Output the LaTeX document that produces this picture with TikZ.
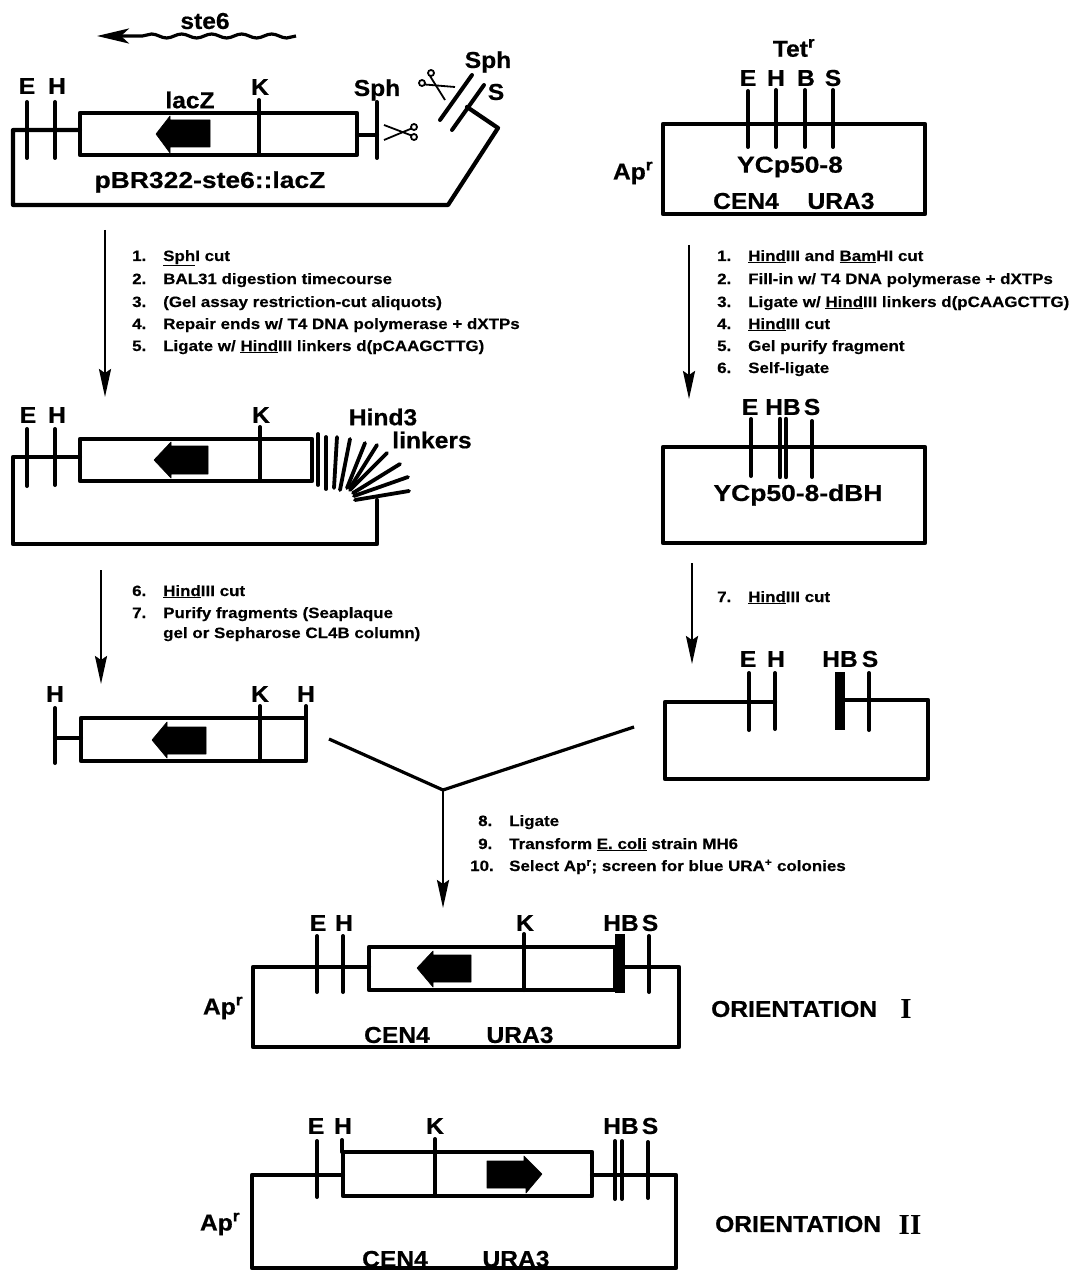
\documentclass[tikz,border=0pt]{standalone}
\usepackage{fontspec}
\setmainfont{Liberation Sans}
\newfontfamily\romfont{Liberation Serif}[UprightFont=* Bold]
\newfontfamily\labfont{Liberation Sans}[UprightFont=* Bold,FakeStretch=1.07,FakeBold=0.6]
\newfontfamily\namefont{Liberation Sans}[UprightFont=* Bold,FakeStretch=1.15,FakeBold=0.6]
\newfontfamily\stepfont{Liberation Sans}[UprightFont=* Bold,FakeStretch=1.13,FakeBold=0.4]
\usetikzlibrary{arrows.meta,decorations.pathmorphing}
\tikzset{
  dna/.style={line width=4.2pt,line cap=round,line join=round,black},
  site/.style={line width=4pt,line cap=round,black},
  link/.style={line width=3.8pt,line cap=round,black},
  band/.style={line width=#1,line cap=round,black},
  fatarrow/.style={fill=black,draw=black,line width=.6pt,line join=round},
  flow/.style={line width=2.4pt,black,-{Stealth[length=28pt,width=12pt,inset=4pt]}},
  yline/.style={line width=3.2pt,black},
  lab/.style={font=\labfont\fontsize{23}{25}\selectfont,inner sep=0pt,anchor=center},
  planame/.style={font=\namefont\fontsize{23}{25}\selectfont,inner sep=0pt,anchor=center},
  stepnum/.style={font=\stepfont\fontsize{15}{17}\selectfont,inner sep=0pt,anchor=base west},
  steptxt/.style={font=\stepfont\fontsize{15}{17}\selectfont,inner sep=0pt,anchor=base west},
  roman/.style={font=\romfont\fontsize{29}{30}\selectfont,inner sep=0pt,anchor=center},
  scis/.style={line width=1.8pt,black},
}
\begin{document}
\begin{tikzpicture}[x=1pt,y=-1pt]
\useasboundingbox (0,0) rectangle (1074,1273);
\fill[white] (0,0) rectangle (1074,1273);

% ---------- top-left plasmid
\coordinate (wavyR) at (296,36);
\coordinate (wavyL) at (97,36);
\draw[line width=3.2pt,-{Stealth[length=32pt,width=15pt,inset=8pt]},decorate,decoration={snake,segment length=30pt,amplitude=2pt,post length=36pt}] (wavyR) -- (wavyL);
\node[lab] (ste) at (205,21) {ste6};
\draw[dna] (80,130) -- (13,130) -- (13,205) -- (448,205) -- (498,128) -- (467,107);
\draw[dna] (80,113) rectangle (357,155);
\draw[dna] (357,135) -- (377,135);
\draw[site] (27,102) -- (27,158);
\draw[site] (55,102) -- (55,158);
\draw[site] (259,100) -- (259,155);
\draw[site] (377,102) -- (377,158);
\draw[site] (440,120) -- (472,75);
\draw[site] (452,130) -- (484,85);
\draw[fatarrow] (156,134) -- (170,116) -- (170,120) -- (210,120) -- (210,147) -- (170,147) -- (170,153) -- cycle;
\draw[scis] (414,127) circle (3pt); \draw[scis] (414,137) circle (3pt);
\draw[scis] (411.5,128.5) -- (384,140);
\draw[scis] (411.5,135.5) -- (384,125);
\draw[scis] (422,83) circle (3pt); \draw[scis] (431,73) circle (3pt);
\draw[scis] (425,84.5) -- (455,87);
\draw[scis] (430,76) -- (445,100);
\node[lab] (e1) at (27,86) {E};
\node[lab] (h1) at (57,86) {H};
\node[lab] (lac1) at (190,100) {lacZ};
\node[lab] (k1) at (260,87) {K};
\node[lab] (sph1) at (377,90) {Sph};
\node[lab] (sph2) at (488,62) {Sph};
\node[lab] (s1) at (496,92) {S};
\node[planame] (pbr) at (210,182) {pBR322-ste6::lacZ};

% ---------- arrow and steps
\coordinate (a1s) at (105,230);
\coordinate (a1e) at (105,397);
\draw[flow] (a1s) -- (a1e);
\node[stepnum] (n1a) at (132,261) {1.};
\node[steptxt] (t1a) at (163,261) {\underline{Sph}I cut};
\node[stepnum] (n1b) at (132,284) {2.};
\node[steptxt] (t1b) at (163,284) {BAL31 digestion timecourse};
\node[stepnum] (n1c) at (132,307) {3.};
\node[steptxt] (t1c) at (163,307) {(Gel assay restriction-cut aliquots)};
\node[stepnum] (n1d) at (132,329) {4.};
\node[steptxt] (t1d) at (163,329) {Repair ends w/ T4 DNA polymerase + dXTPs};
\node[stepnum] (n1e) at (132,351) {5.};
\node[steptxt] (t1e) at (163,351) {Ligate w/ \underline{Hind}III linkers d(pCAAGCTTG)};

% ---------- second plasmid
\draw[dna] (80,457) -- (13,457) -- (13,544) -- (377,544) -- (377,500);
\draw[dna] (80,439) rectangle (312,481);
\draw[site] (27,429) -- (27,486);
\draw[site] (55,429) -- (55,485);
\draw[site] (260,427) -- (260,480);
\draw[fatarrow] (154,460) -- (171,442) -- (171,446) -- (208,446) -- (208,474) -- (171,474) -- (171,478) -- cycle;
\draw[link] (318,434) -- (318,485);
\draw[link] (326,437) -- (326,489);
\draw[link] (337,437) -- (334,488);
\draw[link] (350,439) -- (340,490);
\draw[link] (365,443) -- (347,488);
\draw[link] (377,445) -- (350,488);
\draw[link] (387,453) -- (350,490);
\draw[link] (400,464) -- (353,493);
\draw[link] (408,477) -- (354,496);
\draw[link] (409,491) -- (355,500);
\node[lab] (e2) at (28,415) {E};
\node[lab] (h2) at (57,415) {H};
\node[lab] (k2) at (261,415) {K};
\node[lab] (hd) at (383,417) {Hind3};
\node[lab] (lk) at (432,440) {linkers};

\coordinate (a2s) at (101,570);
\coordinate (a2e) at (101,684);
\draw[flow] (a2s) -- (a2e);
\node[stepnum] (n2a) at (132,596) {6.};
\node[steptxt] (t2a) at (163,596) {\underline{Hind}III cut};
\node[stepnum] (n2b) at (132,618) {7.};
\node[steptxt] (t2b) at (163,618) {Purify fragments (Seaplaque};
\node[steptxt] (t2c) at (163,638) {gel or Sepharose CL4B column)};

% ---------- third fragment
\draw[dna] (81,718) rectangle (306,761);
\draw[dna] (55,738) -- (81,738);
\draw[site] (55,708) -- (55,763);
\draw[site] (260,706) -- (260,761);
\draw[site] (306,706) -- (306,718);
\draw[fatarrow] (152,740) -- (167,722) -- (167,727) -- (206,727) -- (206,754) -- (167,754) -- (167,758) -- cycle;
\node[lab] (h3) at (55,694) {H};
\node[lab] (k3) at (260,694) {K};
\node[lab] (h4) at (306,694) {H};

% ---------- Y join
\coordinate (yl) at (329,739);
\coordinate (yc) at (443,790);
\coordinate (yr) at (634,727);
\coordinate (ye) at (443,908);
\draw[yline] (yl) -- (yc) -- (yr);
\draw[flow] (yc) -- (ye);
\node[stepnum] (n3a) at (478,826) {8.};
\node[steptxt] (t3a) at (509,826) {Ligate};
\node[stepnum] (n3b) at (478,849) {9.};
\node[steptxt] (t3b) at (509,849) {Transform \underline{E. coli} strain MH6};
\node[stepnum] (n3c) at (470,871) {10.};
\node[steptxt] (t3c) at (509,871) {Select Ap\textsuperscript{r}; screen for blue URA\textsuperscript{+} colonies};

% ---------- right: YCp50-8
\draw[dna] (663,124) rectangle (925,214);
\draw[site] (748,91) -- (748,147);
\draw[site] (776,90) -- (776,147);
\draw[site] (805,90) -- (805,147);
\draw[site] (833,90) -- (833,147);
\node[lab] (tet) at (794,48) {Tet\textsuperscript{r}};
\node[lab] (er) at (748,78) {E};
\node[lab] (hr) at (776,78) {H};
\node[lab] (br) at (806,78) {B};
\node[lab] (sr) at (833,78) {S};
\node[lab] (apr) at (633,173) {Ap\textsuperscript{r}};
\node[planame] (ycp) at (790,167) {YCp50-8};
\node[lab] (cenr) at (746,201) {CEN4};
\node[lab] (urar) at (841,201) {URA3};

\coordinate (a4s) at (689,245);
\coordinate (a4e) at (689,399);
\draw[flow] (a4s) -- (a4e);
\node[stepnum] (n4a) at (717,261) {1.};
\node[steptxt] (t4a) at (748,261) {\underline{Hind}III and \underline{Bam}HI cut};
\node[stepnum] (n4b) at (717,284) {2.};
\node[steptxt] (t4b) at (748,284) {Fill-in w/ T4 DNA polymerase + dXTPs};
\node[stepnum] (n4c) at (717,307) {3.};
\node[steptxt] (t4c) at (748,307) {Ligate w/ \underline{Hind}III linkers d(pCAAGCTTG)};
\node[stepnum] (n4d) at (717,329) {4.};
\node[steptxt] (t4d) at (748,329) {\underline{Hind}III cut};
\node[stepnum] (n4e) at (717,351) {5.};
\node[steptxt] (t4e) at (748,351) {Gel purify fragment};
\node[stepnum] (n4f) at (717,373) {6.};
\node[steptxt] (t4f) at (748,373) {Self-ligate};

% ---------- YCp50-8-dBH
\draw[dna] (663,447) rectangle (925,543);
\draw[site] (751,419) -- (751,476);
\draw[band=4.4pt] (780,419) -- (780,477);
\draw[band=4.4pt] (786,419) -- (786,477);
\draw[site] (812,421) -- (812,477);
\node[lab] (e5) at (750,407) {E};
\node[lab] (hb5) at (783,407) {HB};
\node[lab] (s5) at (812,407) {S};
\node[planame] (dbh) at (798,495) {YCp50-8-dBH};

\coordinate (a5s) at (692,563);
\coordinate (a5e) at (692,664);
\draw[flow] (a5s) -- (a5e);
\node[stepnum] (n5a) at (717,602) {7.};
\node[steptxt] (t5a) at (748,602) {\underline{Hind}III cut};

% ---------- cut vector
\draw[dna] (775,702) -- (665,702) -- (665,779) -- (928,779) -- (928,700) -- (840,700);
\draw[site] (749,673) -- (749,730);
\draw[site] (775,673) -- (775,729);
\draw[band=10pt,line cap=butt] (840,672) -- (840,730);
\draw[site] (869,673) -- (869,730);
\node[lab] (e6) at (748,659) {E};
\node[lab] (h6) at (776,659) {H};
\node[lab] (hb6) at (840,659) {HB};
\node[lab] (s6) at (870,659) {S};

% ---------- orientation I
\draw[dna] (369,967) -- (253,967) -- (253,1047) -- (679,1047) -- (679,967) -- (620,967);
\draw[dna] (369,947) rectangle (615,990);
\draw[site] (317,936) -- (317,992);
\draw[site] (343,936) -- (343,992);
\draw[site] (524,934) -- (524,990);
\draw[band=10pt,line cap=butt] (619.5,934) -- (619.5,993);
\draw[site] (649,936) -- (649,992);
\draw[fatarrow] (417,968) -- (433,951) -- (433,955) -- (471,955) -- (471,982) -- (433,982) -- (433,987) -- cycle;
\node[lab] (e7) at (318,923) {E};
\node[lab] (h7) at (344,923) {H};
\node[lab] (k7) at (525,923) {K};
\node[lab] (hb7) at (621,923) {HB};
\node[lab] (s7) at (650,923) {S};
\node[lab] (ap7) at (223,1008) {Ap\textsuperscript{r}};
\node[lab] (cen7) at (397,1035) {CEN4};
\node[lab] (ura7) at (520,1035) {URA3};
\node[lab,anchor=west] (ori1) at (711,1009) {ORIENTATION};
\node[roman] (rom1) at (906,1009) {I};

% ---------- orientation II
\draw[dna] (343,1175) -- (252,1175) -- (252,1268) -- (676,1268) -- (676,1175) -- (592,1175);
\draw[dna] (343,1152) rectangle (592,1196);
\draw[site] (317,1141) -- (317,1197);
\draw[site] (342,1140) -- (342,1152);
\draw[site] (435,1139) -- (435,1196);
\draw[site] (615,1141) -- (615,1199);
\draw[site] (622,1141) -- (622,1199);
\draw[site] (648,1142) -- (648,1198);
\draw[fatarrow] (487,1161) -- (524,1161) -- (524,1156) -- (542,1174) -- (526,1193) -- (526,1188) -- (487,1188) -- cycle;
\node[lab] (e8) at (316,1126) {E};
\node[lab] (h8) at (343,1126) {H};
\node[lab] (k8) at (435,1126) {K};
\node[lab] (hb8) at (621,1126) {HB};
\node[lab] (s8) at (650,1126) {S};
\node[lab] (ap8) at (220,1224) {Ap\textsuperscript{r}};
\node[lab] (cen8) at (395,1259) {CEN4};
\node[lab] (ura8) at (516,1259) {URA3};
\node[lab,anchor=west] (ori2) at (715,1224) {ORIENTATION};
\node[roman] (rom2) at (910,1225) {II};
\end{tikzpicture}
\end{document}
